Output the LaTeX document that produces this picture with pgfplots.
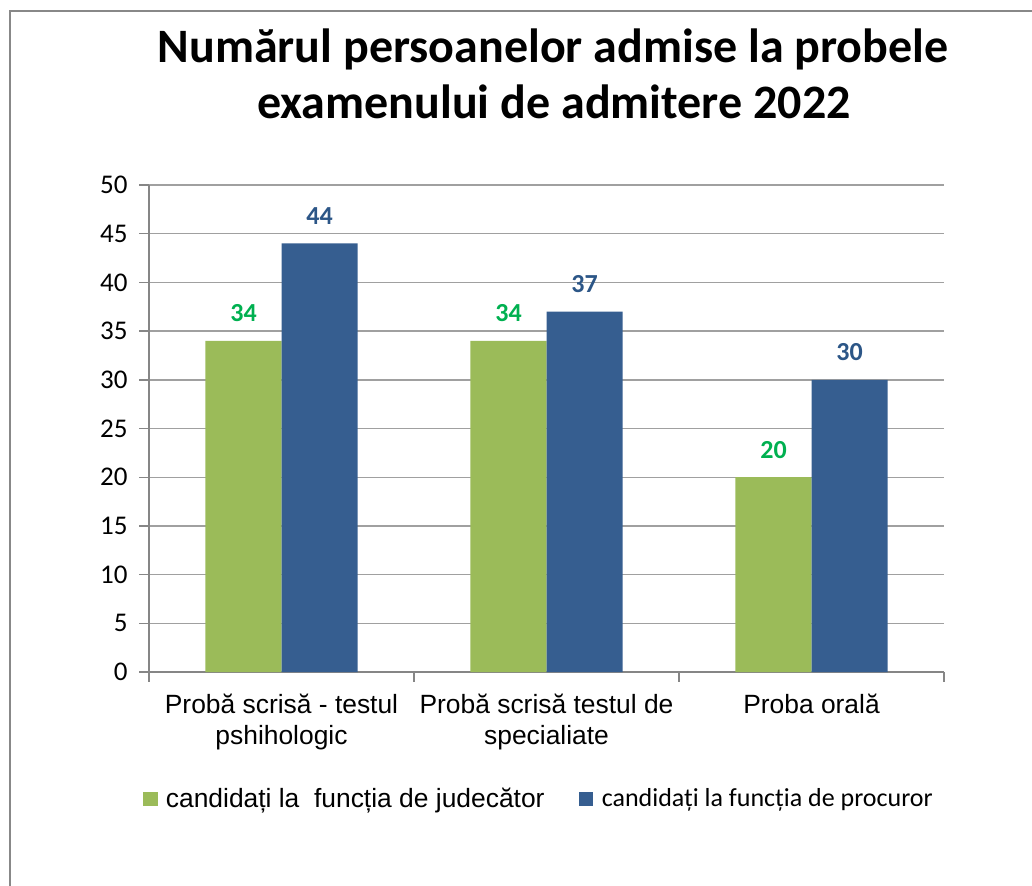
\documentclass[border=0pt]{standalone}
\usepackage{fontspec}
\setmainfont{Liberation Sans}
\newfontfamily\calibri{Carlito}
\usepackage{pgfplots}
\pgfplotsset{compat=1.18}
\definecolor{barGreen}{RGB}{155,187,89}
\definecolor{barBlue}{RGB}{54,94,144}
\definecolor{lblGreen}{RGB}{0,176,80}
\definecolor{lblBlue}{RGB}{44,86,135}
\definecolor{axGray}{RGB}{134,134,134}
\definecolor{gridGray}{RGB}{160,160,160}
\definecolor{frameGray}{RGB}{136,136,136}
\pgfplotsset{sq legend/.style={legend image code/.code={\fill[##1] (0pt,-3.7pt) rectangle (7.4pt,3.7pt);}}}
\begin{document}
\begin{tikzpicture}
\useasboundingbox (0,0) rectangle (516pt,-442.5pt);
\begin{scope}
\clip (0,0) rectangle (516pt,-442.5pt);
\draw[frameGray, line width=1.3pt] (4.9pt,-450pt) -- (4.9pt,-5.5pt) -- (530pt,-5.5pt);
\end{scope}
\node[anchor=base, inner sep=0pt, font=\calibri\bfseries\fontsize{24}{28}\selectfont] at (276.5pt,-31pt) {Numărul persoanelor admise la probele};
\node[anchor=base, inner sep=0pt, font=\calibri\bfseries\fontsize{24}{28}\selectfont] at (277pt,-59pt) {examenului de admitere 2022};
\begin{axis}[
  at={(74.5pt,-336pt)}, anchor=south west,
  scale only axis, width=397.5pt, height=243.5pt,
  xmin=-0.5, xmax=2.5, ymin=0, ymax=50,
  axis lines*=left,
  axis line style={draw=axGray, line width=0.7pt},
  ytick={0,5,...,50},
  ymajorgrids, grid style={gridGray, line width=0.7pt},
  tick align=outside,
  major tick length=4.8pt,
  tick style={axGray, line width=0.7pt},
  xtick={-0.5,0.5,1.5,2.5}, xticklabels={},
  extra x ticks={0,1,2},
  extra x tick labels={{Probă scrisă - testul\\pshihologic},{Probă scrisă testul de\\specialiate},{Proba orală}},
  extra x tick style={major tick length=0pt},
  xticklabel style={font=\fontsize{13.2}{15.5}\selectfont, align=center, anchor=north, inner sep=0pt, yshift=-10.9pt},
  yticklabel style={font=\calibri\fontsize{13.5}{16}\selectfont, anchor=east, inner sep=0pt, xshift=-5.7pt},
  /pgf/number format/assume math mode=true,
  legend columns=2,
  legend style={at={(-0.0079,-0.2608)}, anchor=west, draw=none, fill=none, inner sep=0pt, outer sep=0pt,
    nodes={inner sep=0pt}, font=\fontsize{13.2}{15.5}\selectfont,
    /tikz/every even column/.append style={column sep=17pt},
    /tikz/every odd column/.append style={column sep=4.2pt}},
  legend cell align=left,
]
\addplot[ybar, bar width=0.287, bar shift=-0.1435, fill=barGreen, draw=none, sq legend,
  nodes near coords, nodes near coords style={font=\calibri\bfseries\fontsize{13}{15}\selectfont, text=lblGreen, anchor=base, inner sep=0pt, yshift=9.5pt, xshift=-19pt}]
  coordinates {(0,34) (1,34) (2,20)};
\addlegendentry{candidați la\ \ funcția de judecător}
\addplot[ybar, bar width=0.287, bar shift=0.1435, fill=barBlue, draw=none, sq legend,
  nodes near coords, nodes near coords style={font=\calibri\bfseries\fontsize{13}{15}\selectfont, text=lblBlue, anchor=base, inner sep=0pt, yshift=9.5pt, xshift=19pt}]
  coordinates {(0,44) (1,37) (2,30)};
\addlegendentry{\calibri\fontsize{13}{15}\selectfont candidați la funcția de procuror}
\end{axis}
\end{tikzpicture}
\end{document}
